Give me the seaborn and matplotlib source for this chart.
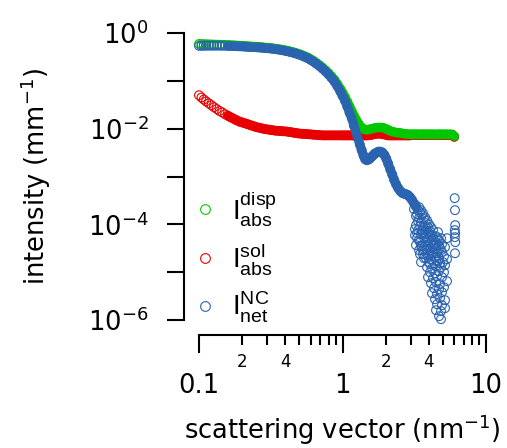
import numpy as np
import matplotlib
matplotlib.use("Agg")
import matplotlib.pyplot as plt
import seaborn as sns
from matplotlib.lines import Line2D
from matplotlib.ticker import FixedLocator, FuncFormatter, NullLocator

# scattering vector grid (nm^-1)
q_grid = [0.100, 0.104, 0.108, 0.112, 0.117, 0.122, 0.127, 0.133, 0.139, 0.145,
          0.152, 0.159, 0.166, 0.174, 0.182, 0.191, 0.200, 0.210, 0.220, 0.231,
          0.242, 0.254, 0.266, 0.279, 0.293, 0.307, 0.322, 0.338, 0.355, 0.372,
          0.390, 0.409, 0.429, 0.450, 0.472, 0.495, 0.519, 0.544, 0.571, 0.599,
          0.628, 0.659, 0.691, 0.725, 0.760, 0.797, 0.836, 0.877, 0.920, 0.965,
          1.00, 1.04, 1.08, 1.12, 1.16, 1.20, 1.24, 1.28, 1.32, 1.36,
          1.40, 1.44, 1.48, 1.53, 1.58, 1.63, 1.68, 1.73, 1.78, 1.84,
          1.90, 1.96, 2.02, 2.08, 2.15, 2.22, 2.29, 2.36, 2.44, 2.52,
          2.60, 2.68, 2.77, 2.86, 2.95, 3.05, 3.15, 3.25, 3.36, 3.47,
          3.58, 3.70, 3.82, 3.95, 4.08, 4.21, 4.35, 4.49, 4.64, 4.79,
          4.95, 5.11, 5.28, 5.45, 5.63, 5.81, 6.00]

# I_abs^disp (dispersion)
disp_I = [0.589, 0.586, 0.583, 0.581, 0.578, 0.575, 0.573, 0.570, 0.568, 0.565,
          0.562, 0.558, 0.555, 0.551, 0.547, 0.542, 0.537, 0.532, 0.527, 0.522,
          0.518, 0.513, 0.507, 0.501, 0.494, 0.488, 0.480, 0.471, 0.461, 0.451,
          0.440, 0.427, 0.413, 0.398, 0.382, 0.365, 0.347, 0.327, 0.307, 0.283,
          0.260, 0.234, 0.211, 0.188, 0.166, 0.145, 0.124, 0.105, 0.0851, 0.0676,
          0.0562, 0.0457, 0.0363, 0.0288, 0.0229, 0.0186, 0.0155, 0.0132, 0.0115, 0.0104,
          0.00977, 0.00944, 0.00944, 0.00955, 0.00977, 0.0100, 0.0102, 0.0104, 0.0105, 0.0105,
          0.0104, 0.0101, 0.00977, 0.00933, 0.00891, 0.00861, 0.00841, 0.00822, 0.00813, 0.00804,
          0.00794, 0.00776, 0.00767, 0.00759, 0.00759, 0.00759, 0.00759, 0.00759, 0.00761, 0.00757,
          0.00759, 0.00762, 0.00756, 0.00759, 0.00761, 0.00757, 0.00759, 0.00755, 0.00759, 0.00762,
          0.00756, 0.00758, 0.00760, 0.00755, 0.00758, 0.00752, 0.00692]

# I_abs^sol (solvent)
sol_I = [0.0501, 0.0447, 0.0407, 0.0372, 0.0339, 0.0309, 0.0282, 0.0257, 0.0234, 0.0219,
         0.0200, 0.0186, 0.0174, 0.0162, 0.0151, 0.0141, 0.0135, 0.0129, 0.0123, 0.0117,
         0.0112, 0.0107, 0.0104, 0.0100, 0.00975, 0.00955, 0.00933, 0.00912, 0.00902, 0.00891,
         0.00881, 0.00871, 0.00851, 0.00832, 0.00813, 0.00794, 0.00785, 0.00776, 0.00767, 0.00759,
         0.00750, 0.00741, 0.00733, 0.00724, 0.00724, 0.00724, 0.00724, 0.00724, 0.00724, 0.00724,
         0.00724, 0.00724, 0.00724, 0.00724, 0.00724, 0.00724, 0.00724, 0.00724, 0.00724, 0.00724,
         0.00724, 0.00724, 0.00724, 0.00730, 0.00741, 0.00759, 0.00776, 0.00785, 0.00794, 0.00785,
         0.00776, 0.00759, 0.00741, 0.00724, 0.00724, 0.00724, 0.00724, 0.00724, 0.00724, 0.00724,
         0.00724, 0.00724, 0.00724, 0.00724, 0.00724, 0.00741, 0.00741, 0.00741, 0.00741, 0.00741,
         0.00741, 0.00741, 0.00741, 0.00741, 0.00741, 0.00741, 0.00741, 0.00741, 0.00741, 0.00741,
         0.00741, 0.00741, 0.00741, 0.00741, 0.00741, 0.00741, 0.00676]

# I_net^NC, smooth part on q_grid up to 3.25
net_I = [0.539, 0.541, 0.542, 0.544, 0.544, 0.544, 0.545, 0.544, 0.545, 0.543,
         0.542, 0.539, 0.538, 0.535, 0.532, 0.528, 0.524, 0.519, 0.515, 0.510,
         0.507, 0.502, 0.497, 0.491, 0.484, 0.478, 0.471, 0.462, 0.452, 0.442,
         0.431, 0.418, 0.404, 0.390, 0.374, 0.357, 0.339, 0.319, 0.299, 0.275,
         0.252, 0.227, 0.204, 0.181, 0.159, 0.138, 0.117, 0.0978, 0.0779, 0.0604,
         0.0490, 0.0385, 0.0291, 0.0216, 0.0166, 0.0117, 0.00851, 0.00631, 0.00468, 0.00355,
         0.00275, 0.00229, 0.00219, 0.00229, 0.00251, 0.00275, 0.00302, 0.00316, 0.00331, 0.00331,
         0.00316, 0.00282, 0.00234, 0.00186, 0.00141, 0.00110, 0.000851, 0.000692, 0.000575, 0.000501,
         0.000457, 0.000437, 0.000427, 0.000407, 0.000372, 0.000324, 0.000275, 0.000234]

# I_net^NC, noisy tail
tail_q = [3.252, 3.358, 3.305, 3.468, 3.413, 3.581, 3.524, 3.698, 3.252, 3.639,
          3.818, 3.358, 3.758, 3.943, 3.524, 3.880, 4.071, 3.305, 3.698, 4.007,
          4.204, 3.468, 3.818, 4.137, 4.341, 3.581, 3.943, 4.272, 4.556, 3.413,
          3.758, 4.071, 4.412, 4.780, 3.639, 3.943, 4.204, 4.556, 4.936, 3.818,
          4.137, 4.412, 4.704, 5.097, 3.524, 4.007, 4.341, 4.629, 5.016, 5.349,
          3.880, 4.204, 4.483, 4.858, 5.180, 4.071, 4.412, 4.704, 5.097, 3.943,
          4.272, 4.556, 4.936, 5.349, 4.137, 4.483, 4.780, 4.341, 4.704, 5.097,
          4.204, 4.556, 4.936, 4.412, 4.780, 5.180, 4.556, 4.936, 4.483, 4.858,
          5.180, 4.704, 4.858, 4.272, 4.483, 4.704, 4.936, 5.180, 4.629, 4.858,
          6.05, 6.08, 6.10, 6.06, 6.09, 6.07, 6.11, 6.08, 5.349, 3.200,
          3.252, 3.880, 3.639, 3.149, 3.252, 3.413, 3.524, 3.639, 3.758, 3.880,
          4.007, 4.137, 3.358, 3.468, 3.581, 3.698, 3.818, 3.943, 4.071, 4.204,
          4.341, 4.483, 4.629, 3.200, 3.305, 3.413, 3.524, 3.639, 3.758, 3.880,
          4.007, 4.137, 4.272, 4.412, 4.556, 4.704, 4.858, 3.698, 4.071, 4.483,
          4.780, 3.468, 3.818]
tail_I = [2.40e-4, 1.98e-4, 1.63e-4, 1.80e-4, 1.35e-4, 1.56e-4, 1.11e-4, 1.29e-4, 9.62e-5, 9.17e-5,
          1.06e-4, 7.57e-5, 7.57e-5, 8.73e-5, 6.24e-5, 6.24e-5, 7.21e-5, 5.14e-5, 5.14e-5, 5.14e-5,
          5.94e-5, 4.24e-5, 4.24e-5, 4.24e-5, 4.67e-5, 3.50e-5, 3.50e-5, 3.50e-5, 4.04e-5, 2.88e-5,
          2.88e-5, 2.88e-5, 3.03e-5, 3.18e-5, 2.38e-5, 2.27e-5, 2.49e-5, 2.49e-5, 2.62e-5, 1.96e-5,
          1.87e-5, 2.06e-5, 1.96e-5, 2.16e-5, 1.62e-5, 1.62e-5, 1.54e-5, 1.70e-5, 1.62e-5, 1.87e-5,
          1.27e-5, 1.21e-5, 1.34e-5, 1.27e-5, 1.40e-5, 1.00e-5, 9.53e-6, 1.05e-5, 1.00e-5, 7.85e-6,
          7.48e-6, 8.24e-6, 7.85e-6, 6.48e-6, 5.89e-6, 6.18e-6, 5.61e-6, 4.62e-6, 4.41e-6, 4.85e-6,
          3.64e-6, 3.47e-6, 3.82e-6, 2.72e-6, 2.86e-6, 2.59e-6, 2.14e-6, 2.04e-6, 1.60e-6, 1.53e-6,
          1.77e-6, 1.20e-6, 1.04e-6, 7.57e-5, 5.66e-5, 4.67e-5, 3.85e-5, 3.33e-5, 6.87e-5, 5.14e-5,
          3.53e-4, 1.98e-4, 9.62e-5, 7.57e-5, 6.55e-5, 5.40e-5, 4.24e-5, 2.49e-5, 5.14e-5, 5.94e-5,
          3.67e-5, 4.67e-5, 6.87e-5, 2.08e-4, 1.49e-4, 2.29e-4, 1.98e-4, 1.71e-4, 1.42e-4, 1.22e-4,
          1.01e-4, 8.73e-5, 1.17e-4, 9.17e-5, 7.57e-5, 6.24e-5, 8.33e-5, 6.87e-5, 5.66e-5, 4.67e-5,
          3.85e-5, 3.18e-5, 2.75e-5, 7.94e-5, 6.55e-5, 4.67e-5, 3.50e-5, 2.88e-5, 3.50e-5, 2.88e-5,
          2.38e-5, 3.18e-5, 2.62e-5, 3.67e-5, 5.14e-5, 3.67e-5, 2.88e-5, 1.96e-5, 1.47e-5, 1.78e-5,
          1.54e-5, 2.38e-5, 5.66e-5]

series_labels = [r'$\mathregular{I_{abs}^{disp}}$',
                 r'$\mathregular{I_{abs}^{sol}}$',
                 r'$\mathregular{I_{net}^{NC}}$']
series_colors = ['#00C800', '#E80000', '#2A63B0']

sns.set_style('ticks')
plt.rcParams['font.family'] = ['DejaVu Sans']
plt.rcParams['mathtext.default'] = 'regular'
for key in ('text.color', 'axes.labelcolor', 'xtick.color', 'ytick.color'):
    plt.rcParams[key] = 'black'

fig = plt.figure(figsize=(5.07, 4.48), dpi=100)
ax = fig.add_axes([0.3925, 0.2857, 0.5661, 0.6406])

net_q = q_grid[:len(net_I)] + tail_q
net_all = net_I + tail_I

# the measured points are so dense that they merge into a band
band_start = 11
layers = [(q_grid, sol_I, q_grid, sol_I, series_colors[1]),
          (q_grid, disp_I, q_grid, disp_I, series_colors[0]),
          (q_grid[:len(net_I)], net_I, net_q, net_all, series_colors[2])]
for bx, by, px, py, col in layers:
    sns.lineplot(x=np.array(bx[band_start:]), y=np.array(by[band_start:]), ax=ax,
                 color=col, linewidth=6.6, sort=False, estimator=None,
                 solid_capstyle='round', solid_joinstyle='round')
    sns.scatterplot(x=np.array(px), y=np.array(py), ax=ax, s=40, marker='o',
                    linewidth=0.8, legend=False, clip_on=False)
    coll = ax.collections[-1]
    coll.set_facecolor('none')
    coll.set_edgecolor(col)

ax.set_xscale('log')
ax.set_yscale('log')
ax.set_xlim(0.1, 10)
ax.set_ylim(1e-6, 1)

# y axis: a tick every decade, labels on even decades
ax.yaxis.set_major_locator(FixedLocator([10.0 ** e for e in range(-6, 1)]))
ax.yaxis.set_major_formatter(FuncFormatter(
    lambda v, p: r'$10^{%d}$' % round(np.log10(v)) if round(np.log10(v)) % 2 == 0 else ''))
ax.yaxis.set_minor_locator(NullLocator())

# x axis: decades labelled, minor ticks with 2 and 4 marked
ax.set_xticks([0.1, 1, 10], labels=['0.1', '1', '10'])
minor_x = [m * d for d in (0.1, 1) for m in range(2, 10)]
minor_lab = [str(m) if m in (2, 4) else '' for d in (0.1, 1) for m in range(2, 10)]
ax.set_xticks(minor_x, labels=minor_lab, minor=True)

ax.tick_params(axis='y', which='major', direction='out', length=12.5, width=1.5,
               pad=13, labelsize=18.5)
ax.tick_params(axis='x', which='major', direction='out', length=13, width=1.5,
               pad=14, labelsize=18.5)
ax.tick_params(axis='x', which='minor', direction='out', length=7, width=1.5,
               pad=6, labelsize=12)

sns.despine(ax=ax, offset=10.8)
for side in ('left', 'bottom'):
    ax.spines[side].set_linewidth(1.5)
    ax.spines[side].set_color('black')

ax.set_xlabel(r'scattering vector (nm$^{-1}$)', fontsize=18.5, labelpad=10)
ax.set_ylabel(r'intensity (mm$^{-1}$)', fontsize=18.5, labelpad=25)

handles = [Line2D([], [], linestyle='none', marker='o', markersize=7,
                  markerfacecolor='none', markeredgecolor=c, markeredgewidth=0.8)
           for c in series_colors]
ax.legend(handles, series_labels, loc='center left', bbox_to_anchor=(-0.008, 0.2195),
          frameon=False, handlelength=0.6, handletextpad=0.67, borderpad=0,
          borderaxespad=0, labelspacing=0.45,
          prop={'family': 'Liberation Sans', 'size': 20})

fig.savefig('out.png', dpi=100)
